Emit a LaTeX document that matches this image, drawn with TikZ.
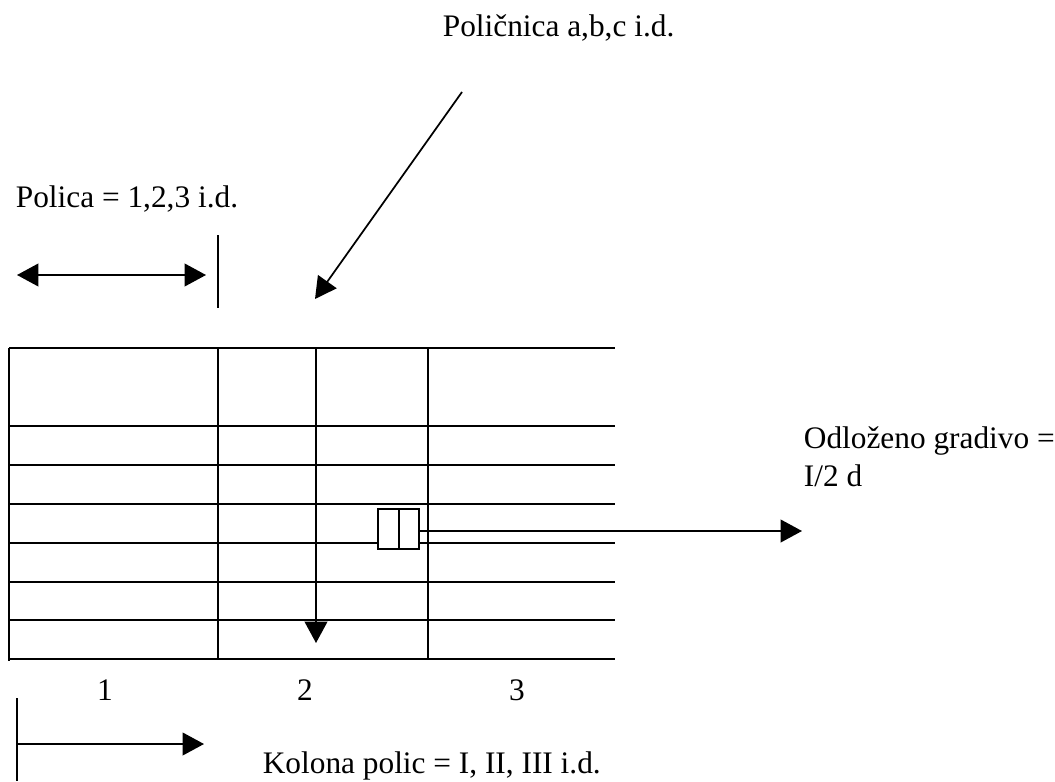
\documentclass[tikz,border=0pt]{standalone}
\usepackage{fontspec}
\setmainfont{Liberation Serif}
\usepackage{tikz}
\usetikzlibrary{arrows.meta}
\tikzset{
    every node/.style={font=\fontsize{23.5}{22.5}\selectfont, inner sep=0pt},
    tip/.style={-{Triangle[length=16pt,width=17pt]}},
    shelf/.style={line width=1.5pt}
}

\begin{document}
\begin{tikzpicture}[x=0.75pt, y=-0.75pt, line width=1.3pt]
            \useasboundingbox (0,0) rectangle (1055,781);
            % labels
            \node[anchor=base west] (shelfbox) at (442,37) {Poličnica a,b,c i.d.};
            \node[anchor=base west] (shelf) at (15,207) {Polica = 1,2,3 i.d.};
            \node[anchor=base west, align=left] (stored) at (803,486) {Odloženo gradivo =\\[6pt]I/2 d};
            \node[anchor=base west] (column) at (262,773) {Kolona polic = I, II, III i.d.};
            \node[anchor=base] (c1) at (105,700) {1};
            \node[anchor=base] (c2) at (305,700) {2};
            \node[anchor=base] (c3) at (517,700) {3};

            % shelves
            \foreach \y in {348,426,465,504,543,582,620,659}
                \draw[shelf] (9,\y) -- (615,\y);
            \draw[shelf] (9,348) -- (9,661);
            \draw[shelf] (218,348) -- (218,659);
            \draw[shelf] (428,348) -- (428,659);

            % stored item
            \node[draw, shelf, fill=white, minimum width=30.75pt, minimum height=30pt] (item) at (398.5,529) {};
            \draw[shelf] (item.north) -- (item.south);

            % arrows
            \coordinate (diagA) at (462,92);
            \coordinate (diagB) at (315,299);
            \draw[tip] (diagA) -- (diagB);

            \coordinate (downA) at (316,348);
            \coordinate (downB) at (316,643);
            \draw[tip] (downA) -- (downB);

            \coordinate (outB) at (802,531);
            \draw[tip] (item.east |- outB) -- (outB);

            \coordinate (spanL) at (17,275);
            \coordinate (spanR) at (206,275);
            \draw[{Triangle[length=16pt,width=17pt]}-{Triangle[length=16pt,width=17pt]}] (spanL) -- (spanR);
            \coordinate (markT) at (218,235);
            \coordinate (markB) at (218,308);
            \draw (markT) -- (markB);

            \coordinate (colT) at (17,698);
            \coordinate (colB) at (17,781);
            \draw (colT) -- (colB);
            \coordinate (colA) at (17,744);
            \coordinate (colR) at (204,744);
            \draw[tip] (colA) -- (colR);
        \end{tikzpicture}
\end{document}
